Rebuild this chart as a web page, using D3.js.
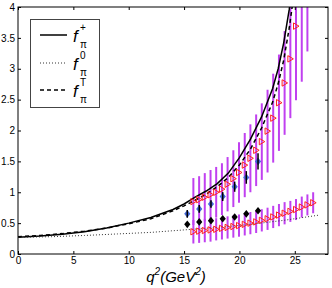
<!DOCTYPE html>
<html>
<head>
<meta charset="utf-8">
<script src="https://cdn.jsdelivr.net/npm/d3@7"></script>
<style>
  body { margin: 0; background: #fff; }
  svg { font-family: "Liberation Sans", Arial, sans-serif; }
</style>
</head>
<body>
<div id="vis"></div>
<script>
// curves
const fPlusQ2 = [0, 2, 4, 6, 8, 10, 12, 14, 15, 16, 17, 18, 19, 20, 21, 22, 23, 23.5, 24, 24.5, 24.6];
const fPlus   = [0.27, 0.29, 0.32, 0.36, 0.42, 0.50, 0.59, 0.72, 0.81, 0.92, 1.02, 1.14, 1.31, 1.56, 1.86, 2.22, 2.68, 3.0, 3.42, 3.96, 4.1];
const fTQ2 = [0, 2, 4, 6, 8, 10, 12, 14, 15, 16, 17, 18, 19, 20, 21, 22, 23, 23.5, 24, 24.5, 24.8];
const fT   = [0.28, 0.30, 0.33, 0.37, 0.42, 0.49, 0.57, 0.70, 0.78, 0.87, 0.97, 1.09, 1.24, 1.44, 1.70, 2.04, 2.46, 2.76, 3.14, 3.66, 4.05];
const f0Q2 = [0, 3, 6, 9, 12, 15, 18, 21, 24, 27.2];
const f0   = [0.27, 0.28, 0.30, 0.325, 0.35, 0.39, 0.43, 0.48, 0.545, 0.63];

// lattice points (triangles + error bars)
const upQ2  = [15.84, 16.36, 16.87, 17.39, 17.9, 18.42, 18.93, 19.45, 19.96, 20.48, 20.99, 21.51, 22.02, 22.54, 23.05, 23.57, 24.08, 24.6, 25.11, 25.63, 26.14];
const upVal = [0.85, 0.88, 0.92, 0.96, 1.0, 1.05, 1.13, 1.22, 1.32, 1.44, 1.55, 1.68, 1.82, 1.99, 2.2, 2.45, 2.77, 3.16, 3.69, 4.4, 5.3];
const upErr = [0.38, 0.38, 0.39, 0.4, 0.41, 0.42, 0.44, 0.46, 0.49, 0.52, 0.55, 0.58, 0.62, 0.67, 0.72, 0.78, 0.84, 0.96, 1.2, 1.61, 2.02];
const loQ2  = [15.84, 16.36, 16.87, 17.39, 17.9, 18.42, 18.93, 19.45, 19.96, 20.48, 20.99, 21.51, 22.02, 22.54, 23.05, 23.57, 24.08, 24.6, 25.11, 25.63, 26.14, 26.66];
const loVal = [0.36, 0.37, 0.38, 0.39, 0.40, 0.415, 0.43, 0.445, 0.46, 0.48, 0.50, 0.52, 0.545, 0.57, 0.60, 0.63, 0.66, 0.69, 0.72, 0.76, 0.795, 0.83];
const loErr = [0.19, 0.19, 0.19, 0.19, 0.18, 0.18, 0.18, 0.18, 0.18, 0.18, 0.18, 0.18, 0.18, 0.18, 0.18, 0.18, 0.18, 0.17, 0.17, 0.17, 0.17, 0.17];

// diamonds
const dQ2    = [15.29, 16.37, 17.43, 18.49, 19.57, 20.62, 21.68];
const dLow   = [0.48, 0.52, 0.54, 0.57, 0.60, 0.65, 0.70];
const dUp    = [0.65, 0.73, 0.81, 0.93, 1.09, 1.24, 1.50];
const dUpErr = [0.03, 0.03, 0.03, 0.04, 0.05, 0.07, 0.10];

const xTicks = [0, 5, 10, 15, 20, 25];
const yTicks = [0, 0.5, 1, 1.5, 2, 2.5, 3, 3.5, 4];

const width = 332, height = 288;
const box = { left: 18, right: 328, top: 7, bottom: 254 };

const svg = d3.select('#vis')
    .append('svg')
    .attr('width', width)
    .attr('height', height);

const x = d3.scaleLinear().domain([0, 28]).range([box.left, box.right]);
const y = d3.scaleLinear().domain([0, 4]).range([box.bottom, box.top]);

svg.append('clipPath').attr('id', 'clip')
    .append('rect')
    .attr('x', box.left).attr('y', box.top)
    .attr('width', box.right - box.left).attr('height', box.bottom - box.top);

const plot = svg.append('g').attr('clip-path', 'url(#clip)');

const line = d3.line().x(d => x(d[0])).y(d => y(d[1]));

// error bars
plot.append('g')
    .selectAll('line')
    .data(upQ2.map((q, i) => [q, upVal[i], upErr[i]]).concat(loQ2.map((q, i) => [q, loVal[i], loErr[i]])))
    .join('line')
    .attr('x1', d => x(d[0])).attr('x2', d => x(d[0]))
    .attr('y1', d => y(d[1] - d[2])).attr('y2', d => y(d[1] + d[2]))
    .attr('stroke', '#c040f0')
    .attr('stroke-width', 2);

// curves
plot.append('path')
    .datum(fPlusQ2.map((q, i) => [q, fPlus[i]]))
    .attr('fill', 'none').attr('stroke', '#000').attr('stroke-width', 1.5)
    .attr('d', line);
plot.append('path')
    .datum(fTQ2.map((q, i) => [q, fT[i]]))
    .attr('fill', 'none').attr('stroke', '#000').attr('stroke-width', 1.5)
    .attr('stroke-dasharray', '4,3')
    .attr('d', line);
plot.append('path')
    .datum(f0Q2.map((q, i) => [q, f0[i]]))
    .attr('fill', 'none').attr('stroke', '#333').attr('stroke-width', 1)
    .attr('stroke-dasharray', '1,2')
    .attr('d', line);

// triangles
const tri = 'M-2.5,-3.2L3,0L-2.5,3.2Z';
plot.append('g')
    .selectAll('path')
    .data(upQ2.map((q, i) => [q, upVal[i]]).concat(loQ2.map((q, i) => [q, loVal[i]])))
    .join('path')
    .attr('transform', d => `translate(${x(d[0])},${y(d[1])})`)
    .attr('d', tri)
    .attr('fill', 'none')
    .attr('stroke', '#ff2020')
    .attr('stroke-width', 1);

// diamonds
const dia = 'M0,-3.8L3.1,0L0,3.8L-3.1,0Z';
plot.append('g')
    .selectAll('path')
    .data(dQ2.map((q, i) => [q, dUp[i]]))
    .join('path')
    .attr('transform', d => `translate(${x(d[0])},${y(d[1])})`)
    .attr('d', dia)
    .attr('fill', '#4468d8');
plot.append('g')
    .selectAll('line')
    .data(dQ2.map((q, i) => [q, dUp[i], dUpErr[i]]))
    .join('line')
    .attr('x1', d => x(d[0])).attr('x2', d => x(d[0]))
    .attr('y1', d => y(d[1] - d[2]) + 2).attr('y2', d => y(d[1] + d[2]) - 2)
    .attr('stroke', '#000')
    .attr('stroke-width', 1.5);
plot.append('g')
    .selectAll('path')
    .data(dQ2.map((q, i) => [q, dLow[i]]))
    .join('path')
    .attr('transform', d => `translate(${x(d[0])},${y(d[1])})`)
    .attr('d', dia)
    .attr('fill', '#000');

// frame and axes, ticks pointing inward
svg.append('rect')
    .attr('x', box.left).attr('y', box.top)
    .attr('width', box.right - box.left).attr('height', box.bottom - box.top)
    .attr('fill', 'none').attr('stroke', '#000').attr('stroke-width', 1);

const styleAxis = g => {
    g.select('.domain').remove();
    g.selectAll('text').attr('font-size', 10).attr('fill', '#000');
};

svg.append('g')
    .attr('transform', `translate(0,${box.bottom})`)
    .call(d3.axisBottom(x).tickValues(xTicks).tickFormat(d3.format('d')).tickSizeInner(-3).tickSizeOuter(0).tickPadding(3))
    .call(styleAxis);
svg.append('g')
    .attr('transform', `translate(0,${box.top})`)
    .call(d3.axisTop(x).tickValues(xTicks).tickFormat('').tickSizeInner(-3).tickSizeOuter(0))
    .call(styleAxis);
svg.append('g')
    .attr('transform', `translate(${box.left},0)`)
    .call(d3.axisLeft(y).tickValues(yTicks).tickFormat(d3.format('~g')).tickSizeInner(-3).tickSizeOuter(0).tickPadding(3))
    .call(styleAxis);
svg.append('g')
    .attr('transform', `translate(${box.right},0)`)
    .call(d3.axisRight(y).tickValues(yTicks).tickFormat('').tickSizeInner(-3).tickSizeOuter(0))
    .call(styleAxis);

// x axis title
const xt = svg.append('text')
    .attr('x', 176).attr('y', 282)
    .attr('text-anchor', 'middle')
    .attr('font-size', 15)
    .attr('font-style', 'italic');
xt.append('tspan').text('q');
xt.append('tspan').attr('font-size', 10).attr('dy', -7).text('2');
xt.append('tspan').attr('dy', 7).text('(GeV');
xt.append('tspan').attr('font-size', 10).attr('dy', -7).text('2');
xt.append('tspan').attr('dy', 7).text(')');

// legend
const legend = svg.append('g');
legend.append('rect')
    .attr('x', 30.5).attr('y', 19.5)
    .attr('width', 69).attr('height', 88)
    .attr('fill', '#fff').attr('stroke', '#444').attr('stroke-width', 1);

const legendItems = [
    { sup: '+', y: 35, dash: null, w: 1.5, c: '#000' },
    { sup: '0', y: 63, dash: '1,2', w: 1, c: '#333' },
    { sup: 'T', y: 90, dash: '4,3', w: 1.5, c: '#000' }
];
legendItems.forEach(it => {
    legend.append('line')
        .attr('x1', 40).attr('x2', 67)
        .attr('y1', it.y).attr('y2', it.y)
        .attr('stroke', it.c).attr('stroke-width', it.w)
        .attr('stroke-dasharray', it.dash);
    legend.append('text')
        .attr('x', 73).attr('y', it.y + 7)
        .attr('font-size', 17).attr('font-style', 'italic')
        .text('f');
    legend.append('text')
        .attr('x', 80).attr('y', it.y - 4)
        .attr('font-size', 10)
        .text(it.sup);
    legend.append('text')
        .attr('x', 80).attr('y', it.y + 13)
        .attr('font-size', 10)
        .text('π');
});
</script>
</body>
</html>
